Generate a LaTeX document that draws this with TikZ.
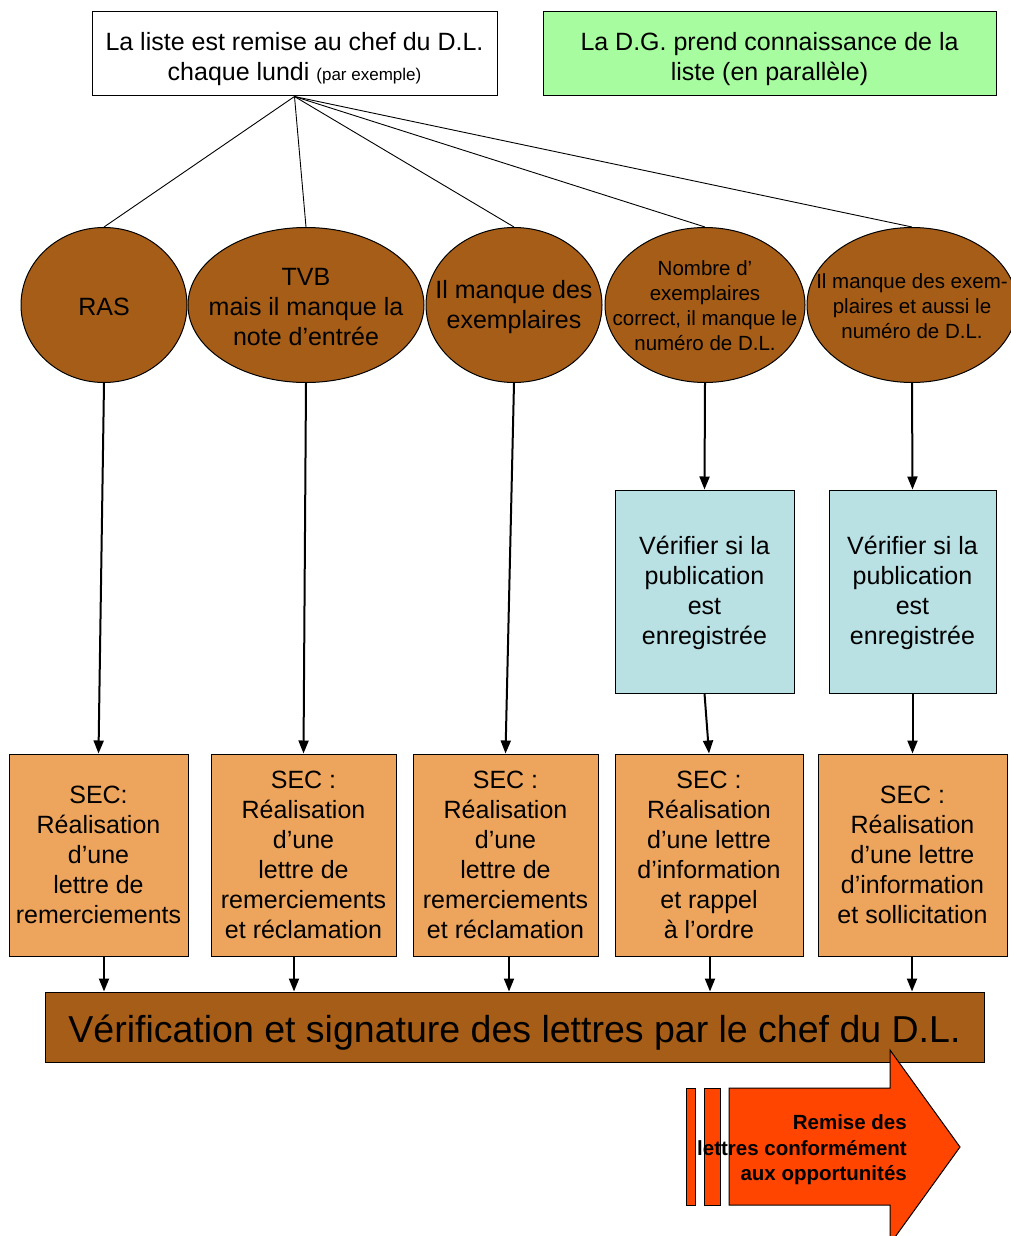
\documentclass[tikz,border=0pt]{standalone}
\usepackage{fontspec}
\setmainfont{Liberation Sans}
\usetikzlibrary{shapes.geometric,arrows.meta}
\definecolor{brownfill}{RGB}{166,93,23}
\definecolor{orangefill}{RGB}{237,165,93}
\definecolor{bluefill}{RGB}{185,224,227}
\definecolor{greenfill}{RGB}{168,252,160}
\definecolor{redfill}{RGB}{255,69,0}
% invisible strut that gives the first line of a caption extra head room
\newcommand\headroom[1]{\rule{0pt}{#1}}
\begin{document}
\begin{tikzpicture}[x=1pt,y=-1pt,
  box/.style={draw=black, line width=1pt, inner sep=0pt, align=center,
    font=\fontsize{25}{30}\selectfont},
  ell/.style={ellipse, draw=black, line width=1pt, fill=brownfill, inner sep=0pt,
    minimum height=155},
  elltext/.style={align=center, inner sep=0pt, yshift=-2pt,
    font=\fontsize{25}{30}\selectfont},
  smalltxt/.style={align=center, inner sep=0pt, yshift=-1pt,
    font=\fontsize{20.5}{25}\selectfont},
  sec/.style={box, fill=orangefill, minimum height=202},
  check/.style={box, fill=bluefill, minimum height=203},
  fan/.style={line width=0.9pt},
  flow/.style={line width=2pt, -{Triangle[length=13pt,width=10pt]}}
]
\useasboundingbox (0,0) rectangle (1011,1236);

% top row
\node[box, fill=white, minimum width=405, minimum height=84] (list) at (294.5,54)
  {\headroom{28pt}La liste est remise au chef du D.L.\\chaque lundi {\fontsize{17}{20}\selectfont(par exemple)}};
\node[box, fill=greenfill, minimum width=453, minimum height=84] (dg) at (769.5,54)
  {\headroom{28pt}La D.G. prend connaissance de la\\liste (en parallèle)};

% cases: ellipses of fixed size, captions set on top of them
\node[ell, minimum width=166] (ras) at (104,305) {};
\node[ell, minimum width=236] (tvb) at (306,305) {};
\node[ell, minimum width=176] (ex) at (514,305) {};
\node[ell, minimum width=200] (num) at (705,305) {};
\node[ell, minimum width=210] (both) at (912,305) {};

\node[elltext] (rast) at (ras) {RAS};
\node[elltext] (tvbt) at (tvb) {TVB\\mais il manque la\\note d’entrée};
\node[elltext] (ext) at (ex) {Il manque des\\exemplaires};
\node[smalltxt] (numt) at (num)
  {Nombre d’\\exemplaires\\correct, il manque le\\numéro de D.L.};
\node[smalltxt] (botht) at (both)
  {Il manque des exem-\\plaires et aussi le\\numéro de D.L.};

\foreach \n in {ras,tvb,ex,num,both}
  \draw[fan] (list.south) -- (\n.north);

% checks
\node[check, minimum width=179] (chk1) at (704.5,591.5)
  {\headroom{22pt}Vérifier si la\\publication\\est\\enregistrée};
\node[check, minimum width=167] (chk2) at (912.5,591.5)
  {\headroom{22pt}Vérifier si la\\publication\\est\\enregistrée};

% letters
\node[sec, minimum width=179] (sec1) at (98.5,855)
  {SEC:\\Réalisation\\d’une\\lettre de\\remerciements};
\node[sec, minimum width=185] (sec2) at (303.5,855)
  {SEC :\\Réalisation\\d’une\\lettre de\\remerciements\\et réclamation};
\node[sec, minimum width=185] (sec3) at (505.5,855)
  {SEC :\\Réalisation\\d’une\\lettre de\\remerciements\\et réclamation};
\node[sec, minimum width=188] (sec4) at (709,855)
  {SEC :\\Réalisation\\d’une lettre\\d’information\\et rappel\\à l’ordre};
\node[sec, minimum width=189] (sec5) at (912.5,855)
  {SEC :\\Réalisation\\d’une lettre\\d’information\\et sollicitation};

\draw[flow] (ras.south) -- (sec1.north);
\draw[flow] (tvb.south) -- (sec2.north);
\draw[flow] (ex.south) -- (sec3.north);
\draw[flow] (num.south) -- (chk1.north);
\draw[flow] (both.south) -- (chk2.north);
\draw[flow] (chk1.south) -- (sec4.north);
\draw[flow] (chk2.south) -- (sec5.north);

% signature bar
\node[box, fill=brownfill, minimum width=939, minimum height=70,
  font=\fontsize{37.5}{42}\selectfont] (bar) at (514.5,1027)
  {\headroom{38pt}Vérification et signature des lettres par le chef du D.L.};

\foreach \s/\x in {sec1/104,sec2/294,sec3/509,sec4/710,sec5/912}
  \draw[flow] (\x,956) -- (bar.north -| \x,0);

% delivery arrow
\draw[line width=1pt, fill=redfill] (686,1088) rectangle (695,1205);
\draw[line width=1pt, fill=redfill] (704,1088) rectangle (720,1205);
\draw[line width=1pt, fill=redfill]
  (729,1088) -- (890,1088) -- (890,1050) -- (960,1147) -- (890,1244)
  -- (890,1205) -- (729,1205) -- cycle;
\node[align=right, anchor=east, inner sep=0pt,
  font=\bfseries\fontsize{20.5}{25.5}\selectfont] (remise) at (907,1150)
  {Remise des\\lettres conformément\\aux opportunités};
\end{tikzpicture}
\end{document}
